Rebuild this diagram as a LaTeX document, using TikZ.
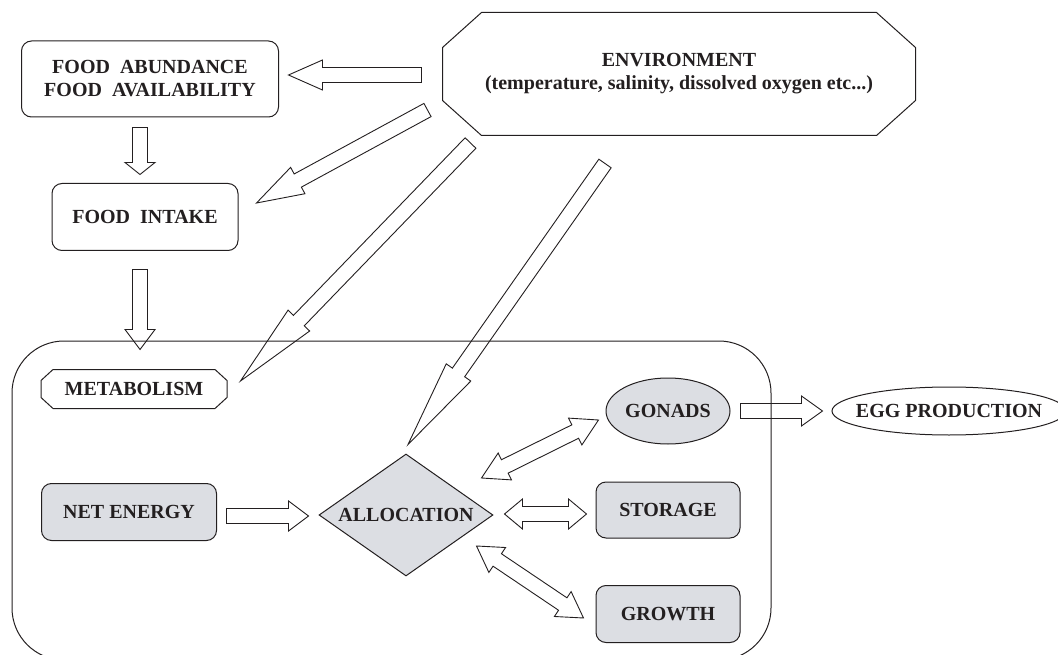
\documentclass[tikz,border=0pt]{standalone}
\usepackage{fontspec}
\setmainfont{Liberation Serif}
\usetikzlibrary{calc,shapes.geometric}
\definecolor{ink}{RGB}{35,31,32}
\definecolor{boxgray}{RGB}{220,222,227}
\tikzset{
  lbl/.style={font=\bfseries\fontsize{20}{23}\selectfont, text=ink, draw=ink, line width=1pt, inner sep=0pt, align=center},
  roundbox/.style={lbl, rectangle, rounded corners=10pt},
  cutbox/.style={lbl, rectangle, draw=none},
  grayfill/.style={fill=boxgray},
  fat/.style={draw=ink, line width=0.9pt, line join=miter},
}
% hollow arrow from #2 to #3, head length #1
\newcommand{\fatarrow}[3][20pt]{%
  \path #2 coordinate (fa-s) #3 coordinate (fa-e);
  \draw[fat] ($(fa-s)!7.5pt!-90:(fa-e)$)
    -- ($(fa-e)!#1!(fa-s)!7.5pt!90:(fa-s)$)
    -- ($(fa-e)!#1!(fa-s)!15pt!90:(fa-s)$)
    -- (fa-e)
    -- ($(fa-e)!#1!(fa-s)!15pt!-90:(fa-s)$)
    -- ($(fa-e)!#1!(fa-s)!7.5pt!-90:(fa-s)$)
    -- ($(fa-s)!7.5pt!90:(fa-e)$) -- cycle;}
% hollow arrow with two heads
\newcommand{\fatboth}[3][20pt]{%
  \path #2 coordinate (fa-s) #3 coordinate (fa-e);
  \draw[fat] (fa-s)
    -- ($(fa-s)!#1!(fa-e)!15pt!-90:(fa-e)$)
    -- ($(fa-s)!#1!(fa-e)!7.5pt!-90:(fa-e)$)
    -- ($(fa-e)!#1!(fa-s)!7.5pt!90:(fa-s)$)
    -- ($(fa-e)!#1!(fa-s)!15pt!90:(fa-s)$)
    -- (fa-e)
    -- ($(fa-e)!#1!(fa-s)!15pt!-90:(fa-s)$)
    -- ($(fa-e)!#1!(fa-s)!7.5pt!-90:(fa-s)$)
    -- ($(fa-s)!#1!(fa-e)!7.5pt!90:(fa-e)$)
    -- ($(fa-s)!#1!(fa-e)!15pt!90:(fa-e)$) -- cycle;}
% octagon frame round a node, corners cut by #2 x #3
\newcommand{\cutframe}[3]{%
  \draw[draw=ink, line width=1pt] ($(#1.north west)+(#2,0)$) -- ($(#1.north east)+(-#2,0)$)
    -- ($(#1.north east)+(0,#3)$) -- ($(#1.south east)+(0,-#3)$)
    -- ($(#1.south east)+(-#2,0)$) -- ($(#1.south west)+(#2,0)$)
    -- ($(#1.south west)+(0,-#3)$) -- ($(#1.north west)+(0,#3)$) -- cycle;}
\begin{document}
\begin{tikzpicture}[x=1pt,y=-1pt]
\useasboundingbox (0,0) rectangle (1058,655);
% organism
\draw[draw=ink, line width=1pt, rounded corners=52pt] (12,341) rectangle (771,660);

\node[roundbox, minimum width=257pt, minimum height=76pt] (food) at (150,79) {FOOD\ \ ABUNDANCE\\FOOD\ \ AVAILABILITY};
\node[roundbox, minimum width=186pt, minimum height=67pt] (intake) at (145,217) {FOOD\ \ INTAKE};
\node[cutbox, minimum width=472pt, minimum height=122pt] (env) at (679,74) {ENVIRONMENT\\(temperature, salinity, dissolved oxygen etc...)};
\cutframe{env}{39}{35}
\node[cutbox, minimum width=185pt, minimum height=38pt] (metab) at (134,389) {METABOLISM};
\cutframe{metab}{12}{11}
\node[roundbox, grayfill, minimum width=175pt, minimum height=57pt] (net) at (129,512) {NET ENERGY};
\node[lbl, diamond, grayfill, aspect=1.43, minimum width=174pt, minimum height=122pt] (alloc) at (406,515) {ALLOCATION};
\node[lbl, ellipse, grayfill, minimum width=124pt, minimum height=66pt] (gonads) at (668,411) {GONADS};
\node[roundbox, grayfill, minimum width=144pt, minimum height=56pt] (storage) at (668,510) {STORAGE};
\node[roundbox, grayfill, minimum width=144pt, minimum height=57pt] (growth) at (668,614) {GROWTH};
\node[lbl, ellipse, minimum width=234pt, minimum height=48pt] (egg) at (949,411) {\makebox[0pt]{EGG PRODUCTION}};

% arrows
\fatarrow[34pt]{($(env.west)+(-21,1)$)}{($(food.east)+(9.5,-4)$)}
\fatarrow[12pt]{($(food.south)+(-10,10)$)}{($(intake.north)+(-5,-8.5)$)}
\fatarrow[20pt]{($(intake.south)+(-5,18.5)$)}{($(metab.north)+(6,-20)$)}
\fatarrow[47pt]{($(env.west)+(-15,36)$)}{($(intake.east)+(18,-14)$)}
\fatarrow[84pt]{($(env.west)+(28,69)$)}{($(metab.east)+(13.5,-8)$)}
\fatarrow[88pt]{($(env.south)+(-74,28)$)}{($(alloc.north)+(2,-9)$)}
\fatarrow[20pt]{($(net.east)+(9.5,4)$)}{($(alloc.west)+(-10,1)$)}
\fatboth[26pt]{($(alloc.east)+(-12,-37)$)}{($(gonads.west)+(-7,9)$)}
\fatboth[18pt]{($(alloc.east)+(11,-1)$)}{($(storage.west)+(-9,4)$)}
\fatboth[25pt]{($(alloc.east)+(-17,31)$)}{($(growth.west)+(-12,4)$)}
\fatarrow[21pt]{($(gonads.east)+(10,0)$)}{($(egg.west)+(-9,0)$)}
\end{tikzpicture}
\end{document}
